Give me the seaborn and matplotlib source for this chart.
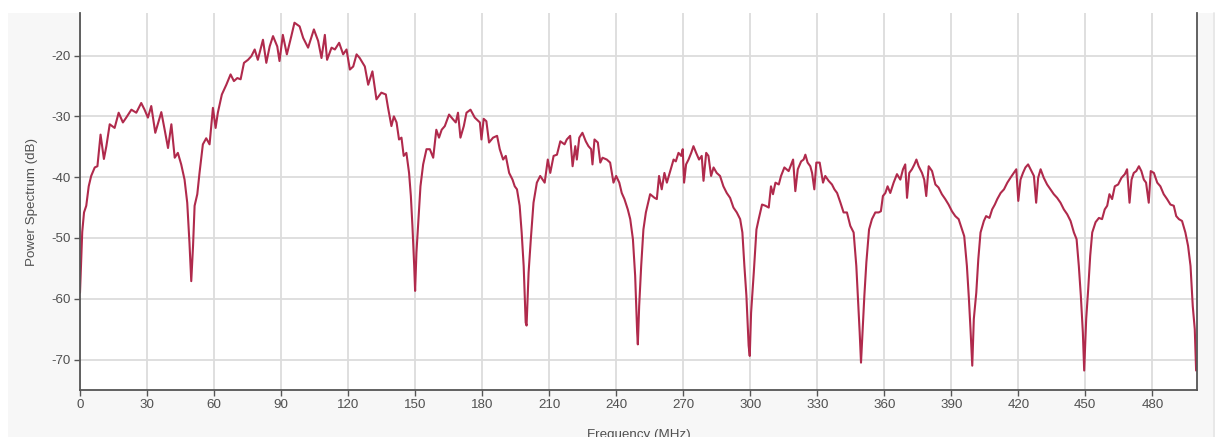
import numpy as np
import pandas as pd
import seaborn as sns
import matplotlib
matplotlib.use("Agg")
import matplotlib.pyplot as plt
from matplotlib.patches import Rectangle
from matplotlib.lines import Line2D

# Measured power spectrum, one (frequency, level) pair per sample
freq_mhz = [
    # 0 - 50 MHz lobe
    0.0, 1.0, 1.8, 2.8, 3.9, 5.0, 6.6, 7.8, 9.2, 10.7, 11.8, 13.3, 15.5, 17.3, 19.2,
    20.7, 23.0, 25.2, 27.4, 28.9, 30.4, 31.9, 33.7, 36.4, 37.9, 39.4, 40.9, 42.4,
    43.8, 45.3, 46.8, 48.0, 49.0, 49.8,
    # 50 - 150 MHz main lobe
    50.6, 51.3, 52.5, 53.5, 55.0, 56.5, 58.0, 59.5, 60.7, 61.7, 63.5, 65.5, 67.4,
    68.9, 70.4, 71.9, 73.4, 75.2, 76.7, 78.2, 79.6, 81.9, 83.4, 84.9, 86.4, 88.3,
    89.3, 90.8, 92.6, 94.6, 96.0, 98.3, 99.9, 102.1, 104.7, 106.6, 108.1, 109.6,
    110.6, 112.6, 114.1, 116.0, 117.8, 119.3, 120.8, 122.3, 123.8, 125.2, 127.5,
    129.0, 130.9, 132.7, 134.9, 136.9, 137.9, 139.4, 140.5, 141.7, 142.8, 143.9,
    144.9, 146.1, 147.3, 148.1, 148.8, 149.6, 150.0,
    # 150 - 200 MHz
    150.6, 151.5, 152.4, 153.6, 155.1, 156.6, 158.1, 159.5, 160.7, 161.9, 163.3,
    165.2, 167.0, 168.2, 169.2, 170.3, 171.8, 173.0, 174.8, 176.7, 179.0, 179.7,
    180.7, 181.9, 183.1, 184.9, 186.7, 187.9, 189.4, 190.6, 192.1, 193.6, 194.6,
    195.6, 196.8, 197.7, 198.6, 199.5, 199.9,
    # 200 - 250 MHz
    200.8, 201.8, 203.0, 204.5, 206.0, 208.0, 209.4, 210.5, 212.0, 213.5, 215.0,
    216.9, 217.9, 219.4, 220.5, 221.7, 222.4, 223.5, 224.9, 226.4, 227.6, 228.8,
    229.4, 230.3, 231.8, 232.9, 233.9, 235.8, 237.3, 238.8, 240.0, 241.4, 242.5,
    243.7, 245.2, 246.3, 247.5, 248.5, 249.4, 249.7,
    # 250 - 300 MHz
    250.3, 251.2, 252.2, 253.3, 255.2, 257.2, 258.2, 259.2, 260.4, 261.6, 262.7,
    264.2, 265.7, 266.7, 267.9, 269.1, 269.8, 270.4, 271.3, 272.4, 273.6, 274.6,
    275.8, 277.1, 278.3, 279.1, 280.3, 281.3, 282.5, 283.6, 285.0, 286.5, 288.0,
    289.5, 291.0, 292.5, 294.0, 295.5, 296.5, 297.4, 298.3, 299.3, 299.8,
    # 300 - 350 MHz
    300.4, 301.6, 302.8, 303.8, 305.3, 306.8, 308.3, 309.3, 310.2, 311.3, 312.8,
    313.8, 315.3, 317.2, 319.2, 320.2, 321.3, 322.8, 323.9, 324.7, 325.7, 326.9,
    327.7, 328.7, 329.6, 331.1, 332.6, 333.6, 335.1, 336.6, 337.7, 338.9, 340.4,
    341.8, 343.3, 344.8, 346.3, 347.5, 348.4, 349.0, 349.6,
    # 350 - 400 MHz
    350.3, 351.1, 352.0, 353.2, 354.5, 356.0, 357.5, 358.5, 359.4, 360.5, 361.5,
    362.7, 364.2, 365.7, 367.2, 368.4, 369.4, 370.2, 371.2, 372.4, 373.5, 374.4,
    375.4, 376.9, 377.9, 378.8, 379.9, 381.4, 382.9, 384.3, 385.8, 387.3, 388.8,
    390.3, 391.8, 393.3, 394.8, 395.8, 397.0, 397.9, 398.6, 399.4,
    # 400 - 450 MHz
    400.1, 401.2, 402.1, 403.1, 404.6, 405.6, 407.1, 408.3, 409.5, 410.6, 412.1,
    413.6, 415.1, 416.5, 418.0, 419.1, 420.0, 421.0, 422.1, 423.2, 424.4, 425.5,
    427.0, 428.0, 428.9, 430.0, 431.4, 432.9, 434.4, 435.9, 437.4, 438.9, 440.4,
    441.9, 443.4, 444.9, 446.1, 447.1, 448.0, 448.9, 449.5,
    # 450 - 500 MHz
    450.4, 451.3, 452.2, 453.1, 454.6, 456.1, 457.5, 458.7, 459.8, 460.8, 462.0,
    463.2, 464.7, 466.2, 467.7, 468.7, 469.8, 470.7, 471.7, 472.8, 474.0, 475.1,
    476.2, 477.2, 478.4, 479.3, 480.7, 482.2, 483.6, 485.1, 486.6, 488.1, 489.6,
    490.7, 491.9, 493.3, 494.8, 496.0, 497.1, 498.1, 499.0, 499.6,
]

power_db = [
    # 0 - 50 MHz lobe
    -59.0, -49.0, -45.8, -44.7, -41.5, -39.8, -38.4, -38.2, -33.0, -37.0, -34.9,
    -31.3, -31.9, -29.4, -31.0, -30.2, -28.9, -29.4, -27.8, -28.9, -30.2, -28.3,
    -32.7, -29.3, -32.2, -35.2, -31.3, -36.8, -36.0, -37.9, -40.4, -44.2, -50.8,
    -57.1,
    # 50 - 150 MHz main lobe
    -51.3, -44.7, -42.8, -39.3, -34.6, -33.6, -34.6, -28.6, -31.9, -29.4, -26.4,
    -24.8, -23.1, -24.2, -23.7, -23.9, -21.2, -20.7, -20.1, -19.0, -20.7, -17.4,
    -21.2, -18.5, -16.8, -18.5, -20.9, -16.6, -19.8, -16.8, -14.6, -15.2, -17.1,
    -18.7, -15.7, -17.6, -20.4, -16.6, -20.7, -18.7, -19.0, -17.9, -19.8, -19.0,
    -22.3, -21.8, -19.8, -20.4, -21.8, -24.8, -22.6, -27.2, -26.1, -26.4, -28.6,
    -31.6, -30.0, -31.0, -33.8, -33.5, -36.5, -36.0, -39.3, -43.1, -48.0, -54.6,
    -58.7,
    # 150 - 200 MHz
    -52.4, -46.9, -41.5, -37.9, -35.4, -35.4, -36.8, -32.2, -33.5, -32.2, -31.6,
    -29.7, -30.5, -31.0, -29.4, -33.5, -31.6, -29.4, -28.9, -30.2, -31.0, -33.8,
    -30.4, -30.8, -34.3, -33.5, -33.2, -35.4, -37.1, -36.5, -39.3, -40.4, -41.5,
    -42.0, -44.7, -49.1, -54.6, -63.9, -64.4,
    # 200 - 250 MHz
    -55.7, -50.2, -44.2, -40.9, -39.8, -40.9, -37.1, -39.3, -36.5, -36.3, -34.1,
    -34.6, -33.8, -33.2, -38.2, -34.9, -37.1, -33.5, -32.7, -34.1, -34.9, -35.4,
    -37.9, -33.8, -34.3, -37.6, -36.8, -37.1, -37.6, -40.9, -39.8, -40.9, -42.6,
    -43.6, -45.3, -46.9, -50.2, -56.2, -65.5, -67.5,
    # 250 - 300 MHz
    -61.2, -54.6, -48.6, -45.8, -42.8, -43.4, -43.6, -39.8, -42.0, -39.3, -40.9,
    -39.0, -37.1, -37.4, -36.0, -36.5, -35.4, -40.9, -37.9, -37.1, -36.0, -34.9,
    -36.0, -37.1, -36.5, -40.6, -36.0, -36.5, -39.8, -38.4, -39.3, -39.8, -41.5,
    -42.6, -43.4, -45.0, -45.8, -46.9, -49.1, -54.6, -59.5, -67.7, -69.4,
    # 300 - 350 MHz
    -62.3, -55.7, -48.6, -46.9, -44.5, -44.7, -45.0, -41.5, -42.8, -40.9, -41.2,
    -39.8, -38.4, -39.0, -37.1, -42.3, -38.7, -37.4, -37.1, -36.3, -37.6, -38.2,
    -39.3, -42.0, -37.6, -37.6, -40.9, -39.8, -40.6, -41.2, -42.0, -42.6, -44.2,
    -45.8, -45.8, -48.0, -49.1, -54.6, -61.2, -65.5, -70.5,
    # 350 - 400 MHz
    -65.5, -59.5, -54.0, -48.6, -46.9, -45.8, -45.8, -45.6, -43.1, -42.6, -41.5,
    -42.6, -40.9, -39.5, -40.4, -38.7, -37.9, -43.4, -39.3, -38.7, -37.9, -37.1,
    -38.2, -39.3, -40.4, -43.1, -38.2, -39.0, -41.2, -41.7, -42.8, -43.6, -44.5,
    -45.6, -46.4, -46.9, -48.6, -49.7, -54.6, -60.0, -64.9, -71.0,
    # 400 - 450 MHz
    -63.3, -59.0, -53.5, -49.1, -47.2, -46.4, -46.7, -45.3, -44.5, -43.6, -42.6,
    -42.0, -40.9, -40.1, -39.3, -38.7, -43.9, -40.4, -39.3, -38.4, -37.9, -38.7,
    -39.8, -44.2, -40.1, -38.7, -40.1, -41.2, -42.0, -42.8, -43.4, -44.2, -45.3,
    -46.1, -47.2, -49.1, -50.2, -54.6, -59.5, -65.5, -71.8,
    # 450 - 500 MHz
    -63.3, -58.4, -52.9, -49.1, -47.4, -46.7, -46.9, -45.3, -44.7, -42.8, -43.6,
    -41.5, -41.2, -40.1, -39.5, -38.7, -44.2, -40.4, -39.3, -39.0, -38.2, -39.0,
    -40.4, -40.9, -44.2, -39.0, -39.3, -40.9, -41.5, -42.8, -43.6, -44.5, -44.7,
    -46.4, -46.9, -47.2, -49.1, -51.3, -54.6, -61.2, -65.0, -71.8,
]

x_ticks = [0, 30, 60, 90, 120, 150, 180, 210, 240, 270, 300, 330, 360, 390, 420, 450, 480]
y_ticks = [-70, -60, -50, -40, -30, -20]

spectrum = pd.DataFrame({"Frequency (MHz)": freq_mhz, "Power Spectrum (dB)": power_db})

sns.set_theme(style="whitegrid")
plt.rcParams["font.family"] = ["Liberation Sans", "DejaVu Sans"]
plt.rcParams["axes.unicode_minus"] = False

W, H = 1219, 437
fig = plt.figure(figsize=(W / 100, H / 100), dpi=100, facecolor="white")

# light grey panel behind the chart
fig.add_artist(Rectangle((8 / W, 0), (1213 - 8) / W, (H - 13) / H,
                         transform=fig.transFigure, facecolor="#f7f7f7",
                         edgecolor="none", zorder=-10))
fig.add_artist(Line2D([1214 / W, 1214 / W], [0, (H - 13) / H],
                      transform=fig.transFigure, color="#e4e4e4", linewidth=1.2,
                      zorder=-9))

left, right, top, bottom = 80, 1197, 13, 390
ax = fig.add_axes([left / W, 1 - bottom / H, (right - left) / W, (bottom - top) / H])
ax.set_zorder(1)
ax.set_facecolor("white")

sns.lineplot(data=spectrum, x="Frequency (MHz)", y="Power Spectrum (dB)", ax=ax,
             color="#b02a4c", linewidth=1.5, estimator=None, sort=False)

ax.set_xlim(0, 500)
ax.set_ylim(-75, -13)
ax.set_xticks(x_ticks)
ax.set_yticks(y_ticks)

ax.grid(True, color="#dcdcdc", linewidth=1.3)
ax.set_axisbelow(True)

for side in ("left", "bottom", "right"):
    ax.spines[side].set_visible(True)
    ax.spines[side].set_color("#555555")
    ax.spines[side].set_linewidth(1.3)
ax.spines["top"].set_visible(False)

text_color = "#505050"
ax.tick_params(axis="both", which="major", direction="out", length=4, width=1.0,
               color="#555555", labelsize=9.6, labelcolor=text_color, pad=2.5)
ax.tick_params(axis="y", left=True, right=False)
ax.tick_params(axis="x", bottom=True)

ax.set_xlabel("Frequency (MHz)", fontsize=9.6, color=text_color, labelpad=13)
ax.set_ylabel("Power Spectrum (dB)", fontsize=9.6, color=text_color, labelpad=10)

fig.savefig("out.png", dpi=100, facecolor=fig.get_facecolor())
